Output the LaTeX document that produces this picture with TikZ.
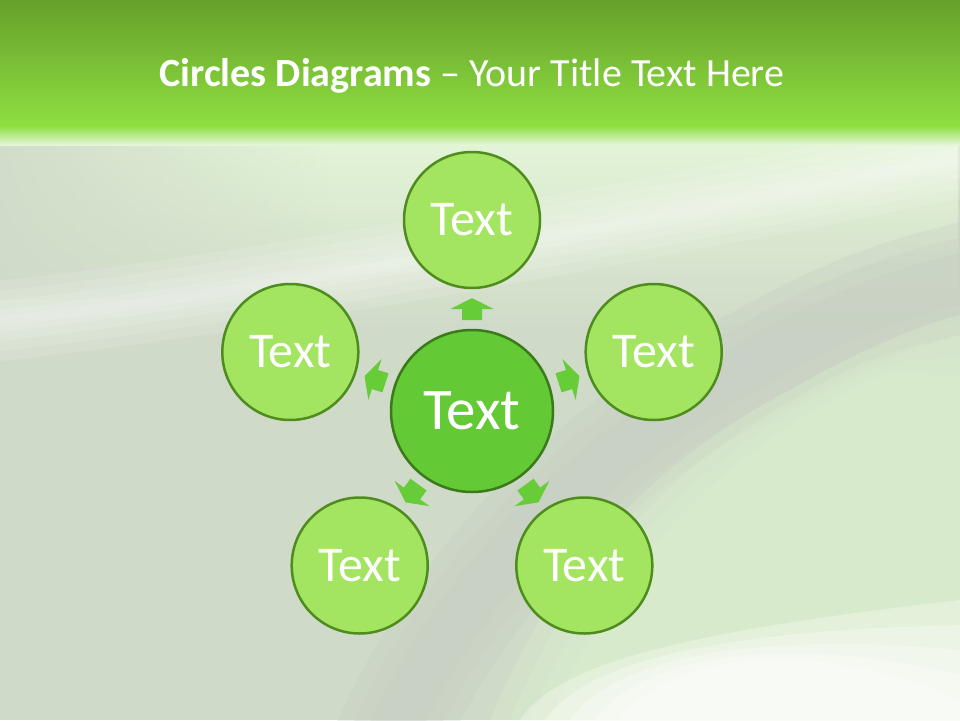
\documentclass[tikz,border=0pt]{standalone}
\usepackage{fontspec}
\setmainfont{Carlito}
\usetikzlibrary{calc,fadings}
\definecolor{bandtop}{HTML}{66A02B}
\definecolor{bandbot}{HTML}{8EDF40}
\definecolor{bgbase}{HTML}{D0DAC9}
\definecolor{bggrey}{HTML}{C6CEC2}
\definecolor{bglight}{HTML}{E4F6D8}
\definecolor{bgmint}{HTML}{DAEFCD}
\definecolor{outerfill}{HTML}{A3E561}
\definecolor{outerline}{HTML}{4E8C1E}
\definecolor{centerfill}{HTML}{63C934}
\definecolor{centerline}{HTML}{3A7A1A}
\definecolor{arrowfill}{HTML}{66CC38}
\tikzset{
  outercircle/.style={circle, fill=outerfill, draw=outerline, line width=2.5pt,
    minimum size=136pt, inner sep=0pt, text=white, font=\fontsize{50}{54}\selectfont},
  centercircle/.style={circle, fill=centerfill, draw=centerline, line width=2.5pt,
    minimum size=162pt, inner sep=0pt, text=white, font=\fontsize{59}{63}\selectfont},
  blockarrow/.style={fill=arrowfill},
  titletext/.style={text=white, font=\fontsize{40}{44}\selectfont, inner sep=0pt},
  softwhite/.style={white, opacity=0.12, line cap=round}
}
\begin{document}
\begin{tikzpicture}[x=1pt,y=-1pt]
\useasboundingbox (0,0) rectangle (960,720);
% background
\fill[bgbase] (0,0) rectangle (960,720);
\fill[bglight, path fading=south] (0,135) rectangle (960,330);
\fill[bgbase, opacity=0.9, path fading=east] (0,140) rectangle (330,300);
% light streak from the left
\foreach \w in {80,60,40,22,10}
  \draw[softwhite, line width=\w pt] (-40,325) .. controls (200,302) and (550,240) .. (1000,150);
% grey diagonal band
\foreach \w in {110,80,50}
  \draw[bggrey, opacity=0.3, line width=\w pt] (380,760) .. controls (450,600) and (560,470) .. (760,360) .. controls (840,315) and (900,290) .. (1000,270);
% lighter mint area on the right
\foreach \s in {0,20,40,60}
  \fill[bgmint, opacity=0.35] ($(490,720)+(\s,0)$) .. controls ($(540,600)+(\s,0)$) and ($(620,480)+(\s,0)$) .. ($(790,390)+(\s,0)$) .. controls ($(860,350)+(\s,0)$) and ($(920,325)+(0,\s)$) .. ($(960,315)+(0,\s)$) -- (960,720) -- cycle;
% bright bottom right
\foreach \s in {0,25,50,75,100}
  \fill[white, opacity=0.3] ($(520,720)+(\s,0)$) .. controls ($(560,660)+(\s,0)$) and ($(700,630)+(\s,0)$) .. ($(960,600)+(0,\s)$) -- (960,720) -- cycle;
% green title band
\shade[top color=bandtop, bottom color=bandbot] (0,0) rectangle (960,126);
\shade[top color=bandbot, bottom color=bglight] (0,125.5) rectangle (960,145);
% title
\node[titletext] (title) at (472,76) {\textbf{Circles Diagrams} – Your Title Text Here};
% circles
\node[centercircle] (c) at (472,411) {Text};
\node[outercircle] (t) at (472,220) {Text};
\node[outercircle] (r) at (653.7,352) {Text};
\node[outercircle] (l) at (290.3,352) {Text};
\node[outercircle] (br) at (584.3,565.5) {Text};
\node[outercircle] (bl) at (359.7,565.5) {Text};
% block arrows
\foreach \n/\a in {t/90, r/18, l/162, br/-54, bl/-126}{
  \coordinate (a\n) at ($(c.center)!102pt!(\n.center)$);
  \fill[blockarrow, shift={(a\n)}, rotate=\a] (-11,-10) -- (0,-10) -- (0,-21.5) -- (11,0) -- (0,21.5) -- (0,10) -- (-11,10) -- cycle;
}
\end{tikzpicture}
\end{document}
